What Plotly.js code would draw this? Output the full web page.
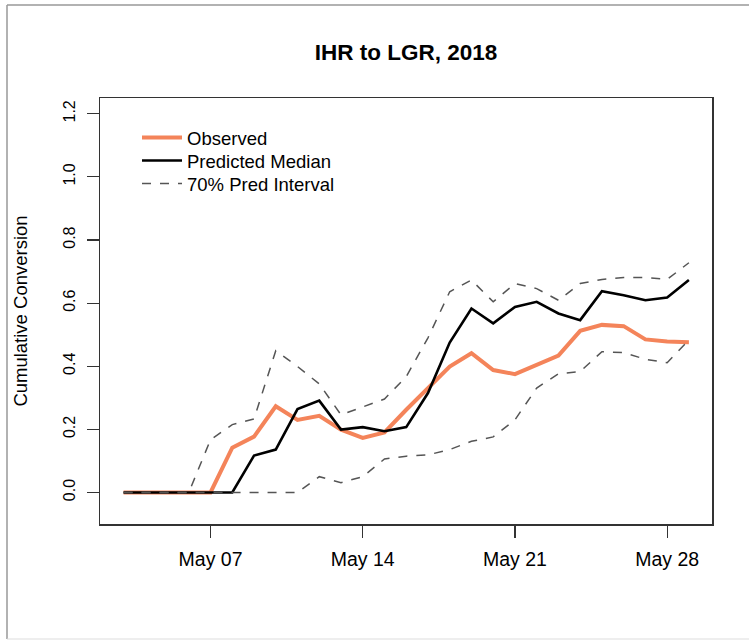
<!DOCTYPE html>
<html>
<head>
<meta charset="utf-8">
<script src="https://cdn.plot.ly/plotly-3.0.1.min.js"></script>
<style>html,body{margin:0;padding:0;background:#fff;}#chart{width:749px;height:640px;}</style>
</head>
<body>
<div id="chart"></div>
<script>
const dates = ['2018-05-03','2018-05-04','2018-05-05','2018-05-06','2018-05-07','2018-05-08','2018-05-09',
  '2018-05-10','2018-05-11','2018-05-12','2018-05-13','2018-05-14','2018-05-15','2018-05-16',
  '2018-05-17','2018-05-18','2018-05-19','2018-05-20','2018-05-21','2018-05-22','2018-05-23',
  '2018-05-24','2018-05-25','2018-05-26','2018-05-27','2018-05-28','2018-05-29'];
const observed = [0,0,0,0,0,0.142,0.177,0.273,0.230,0.243,0.199,0.173,0.190,0.262,0.330,0.399,0.441,
  0.388,0.375,0.406,0.434,0.512,0.531,0.527,0.485,0.478,0.476];
const predMedian = [0,0,0,0,0,0,0.117,0.136,0.264,0.291,0.199,0.207,0.194,0.207,0.315,0.475,0.583,
  0.536,0.588,0.604,0.567,0.546,0.638,0.625,0.609,0.618,0.673];
const upper70 = [0,0,0,0,0.167,0.215,0.233,0.449,0.399,0.344,0.246,0.271,0.296,0.367,0.490,0.636,0.673,
  0.604,0.662,0.646,0.609,0.662,0.675,0.681,0.681,0.675,0.728];
const lower70 = [0,0,0,0,0,0,0,0,0,0.050,0.031,0.050,0.106,0.115,0.119,0.136,0.162,
  0.176,0.230,0.331,0.376,0.383,0.446,0.443,0.422,0.411,0.483];
const xTickVals = ['2018-05-07','2018-05-14','2018-05-21','2018-05-28'];
const xTickText = ['May 07','May 14','May 21','May 28'];
const yTickVals = [0,0.2,0.4,0.6,0.8,1.0,1.2];
const yTickText = ['0.0','0.2','0.4','0.6','0.8','1.0','1.2'];

const FONT = 'Liberation Sans, Arial, Helvetica, sans-serif';
const traces = [
  {x: dates, y: observed, name: 'Observed', type: 'scatter', mode: 'lines', legend: 'legend',
   line: {color: '#F4845A', width: 4}},
  {x: dates, y: predMedian, name: 'Predicted Median', type: 'scatter', mode: 'lines', legend: 'legend2',
   line: {color: '#000000', width: 2.6}},
  {x: dates, y: upper70, name: '70% Pred Interval', type: 'scatter', mode: 'lines', legend: 'legend3',
   line: {color: '#555555', width: 1.5, dash: 'dash'}},
  {x: dates, y: lower70, name: '70% Pred Interval', type: 'scatter', mode: 'lines', showlegend: false,
   line: {color: '#555555', width: 1.5, dash: 'dash'}}
];
// plot area: x 100..712, y 98..524
const px2x = p => (p - 100) / 612;
const py2y = p => (524 - p) / 426;
function leg(cy) {
  return {x: px2x(137), y: py2y(cy), xanchor: 'left', yanchor: 'middle', bgcolor: 'rgba(0,0,0,0)',
          borderwidth: 0, itemwidth: 40, font: {size: 18.5, family: FONT, color: '#000'}};
}
const layout = {
  width: 749, height: 640,
  margin: {l: 100, r: 37, t: 98, b: 116},
  paper_bgcolor: '#ffffff', plot_bgcolor: '#ffffff',
  font: {family: FONT, color: '#000'},
  title: {text: '<b>IHR to LGR, 2018</b>', font: {family: FONT, size: 22.5, color: '#000'},
          x: 0.5, xanchor: 'center', y: 1 - 52/640, yanchor: 'middle', xref: 'paper', yref: 'container'},
  xaxis: {type: 'date', range: ['2018-05-01 22:00', '2018-05-30 01:30'],
          tickmode: 'array', tickvals: xTickVals, ticktext: xTickText,
          ticks: 'outside', ticklen: 12, tickwidth: 1.2, tickcolor: '#333', ticklabelstandoff: 5,
          showline: true, mirror: true, linecolor: '#333', linewidth: 1.5,
          showgrid: false, zeroline: false, tickfont: {size: 19.5, family: FONT, color: '#000'}},
  yaxis: {range: [-0.1, 1.25], tickmode: 'array', tickvals: yTickVals, ticktext: yTickText,
          tickangle: -90, ticks: 'outside', ticklen: 12, tickwidth: 1.2, tickcolor: '#333', ticklabelstandoff: 5,
          showline: true, mirror: true, linecolor: '#333', linewidth: 1.5,
          showgrid: false, zeroline: false, tickfont: {size: 16, family: FONT, color: '#000'},
          title: {text: 'Cumulative Conversion', font: {size: 18.5, family: FONT, color: '#000'}, standoff: 28}},
  legend: leg(138),
  legend2: leg(161),
  legend3: leg(184),
  showlegend: true,
  hovermode: false,
  shapes: [
    {type: 'line', xref: 'paper', yref: 'paper', x0: px2x(7), x1: px2x(749), y0: py2y(5), y1: py2y(5),
     line: {color: '#999', width: 1.5}},
    {type: 'line', xref: 'paper', yref: 'paper', x0: px2x(7), x1: px2x(7), y0: py2y(5), y1: py2y(639),
     line: {color: '#999', width: 1.5}},
    {type: 'line', xref: 'paper', yref: 'paper', x0: px2x(7), x1: px2x(749), y0: py2y(639), y1: py2y(639),
     line: {color: '#ddd', width: 1}}
  ]
};
Plotly.newPlot('chart', traces, layout, {displayModeBar: false, staticPlot: true});
</script>
</body>
</html>
